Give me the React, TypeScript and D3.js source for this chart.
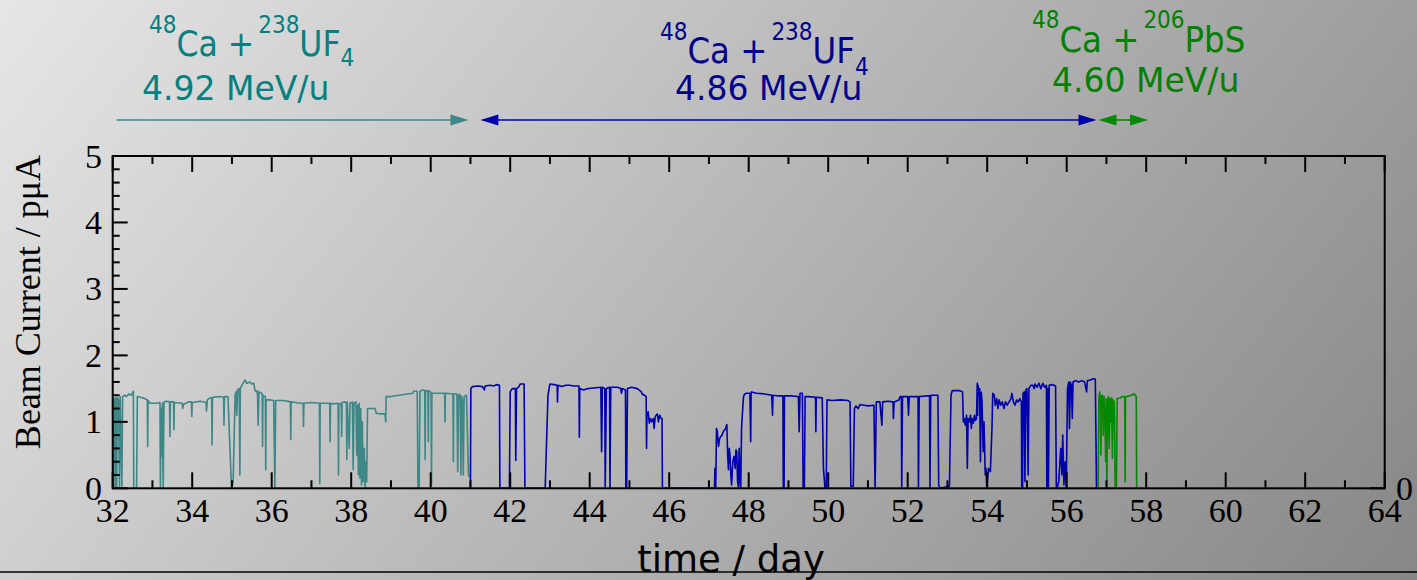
import React from 'react';
import * as d3 from 'd3';

const W = 1417;
const H = 580;

// ---- axis values ----
const xMajorTicks = [32, 34, 36, 38, 40, 42, 44, 46, 48, 50, 52, 54, 56, 58, 60, 62, 64];
const xMinorTicks = [33, 35, 37, 39, 41, 43, 45, 47, 49, 51, 53, 55, 57, 59, 61, 63];
const yMajorTicks = [0, 1, 2, 3, 4, 5];
const yMinorTicks = [0.2, 0.4, 0.6, 0.8, 1.2, 1.4, 1.6, 1.8, 2.2, 2.4, 2.6, 2.8, 3.2, 3.4, 3.6, 3.8, 4.2, 4.4, 4.6, 4.8];

// ---- beam periods (day ranges of the arrows) ----
const tealArrow = [32.1, 40.95];
const blueArrow = [41.25, 56.75];
const greenArrow = [56.8, 58.05];

// ---- beam current series [day, pμA] ----
const tealSeries: [number, number][] = [
  [32.0, 1.35], [32.01, 0], [32.03, 1.36], [32.05, 1.3], [32.06, 0], [32.08, 1.36], [32.1, 0], [32.12, 1.37],
  [32.15, 1.33], [32.17, 0], [32.19, 1.38], [32.23, 0], [32.25, 1.38], [32.3, 1.4], [32.35, 1.38], [32.4, 1.42],
  [32.47, 1.4], [32.52, 1.46], [32.53, 0], [32.6, 0], [32.62, 1.38], [32.7, 1.37], [32.8, 1.35], [32.87, 1.33],
  [32.88, 0.63], [32.89, 1.32], [32.94, 1.28], [33.1, 1.28], [33.19, 1.29], [33.2, 0], [33.22, 1.2], [33.23, 0.48],
  [33.25, 1.28], [33.27, 0], [33.29, 1.3], [33.35, 1.31], [33.43, 1.3], [33.44, 0.78], [33.45, 1.3], [33.53, 1.3],
  [33.54, 0.88], [33.55, 1.29], [33.75, 1.28], [33.76, 1.2], [33.78, 1.26], [33.9, 1.3], [33.98, 1.3], [33.99, 1.08],
  [34.0, 1.29], [34.2, 1.31], [34.35, 1.29], [34.36, 1.16], [34.38, 1.33], [34.45, 1.36], [34.49, 1.36], [34.5, 0.65],
  [34.51, 1.37], [34.7, 1.38], [34.79, 1.37], [34.8, 0.95], [34.81, 1.38], [34.9, 1.38], [34.95, 0.6], [34.99, 0],
  [35.03, 0.1], [35.08, 1.4], [35.1, 1.45], [35.12, 1.1], [35.14, 1.48], [35.18, 1.5], [35.2, 0.2], [35.21, 1.5],
  [35.25, 1.55], [35.3, 1.6], [35.33, 1.63], [35.37, 1.58], [35.45, 1.6], [35.5, 1.57], [35.55, 1.58], [35.58, 1.47],
  [35.62, 1.45], [35.64, 1.47], [35.66, 0.95], [35.68, 1.45], [35.72, 1.44], [35.76, 1.42], [35.77, 0.63], [35.78, 1.4],
  [35.84, 1.38], [35.85, 0.28], [35.86, 1.33], [35.95, 1.33], [36.05, 1.32], [36.08, 0], [36.1, 1.32], [36.3, 1.32],
  [36.47, 1.3], [36.48, 0.73], [36.49, 1.3], [36.6, 1.29], [36.71, 1.28], [36.79, 1.28], [36.8, 0.93], [36.81, 1.28],
  [37.0, 1.29], [37.2, 1.28], [37.21, 0.07], [37.22, 1.28], [37.35, 1.28], [37.46, 1.28], [37.47, 0.7], [37.48, 1.28],
  [37.55, 1.27], [37.67, 1.28], [37.68, 0.2], [37.69, 1.26], [37.75, 1.28], [37.76, 0.78], [37.77, 1.29], [37.84, 1.3],
  [37.88, 1.28], [37.89, 0.43], [37.9, 1.3], [37.95, 0.6], [37.97, 1.28], [38.03, 1.3], [38.05, 0.28], [38.07, 1.28],
  [38.12, 1.3], [38.14, 0.5], [38.16, 1.25], [38.18, 0.2], [38.2, 1.28], [38.22, 0.15], [38.24, 1.2], [38.26, 0.05],
  [38.28, 1.0], [38.3, 0.1], [38.33, 0.6], [38.35, 0], [38.37, 0.4], [38.39, 0.1], [38.41, 1.2], [38.5, 1.2],
  [38.6, 1.2], [38.63, 1.13], [38.75, 1.12], [38.85, 1.12], [38.87, 1.0], [38.88, 1.38], [39.0, 1.38], [39.2, 1.4],
  [39.4, 1.42], [39.55, 1.43], [39.57, 1.46], [39.66, 1.46], [39.68, 0], [39.71, 0], [39.73, 1.46], [39.8, 1.48],
  [39.85, 1.47], [39.86, 0.43], [39.87, 1.47], [39.93, 1.46], [39.94, 0.7], [39.95, 1.47], [40.01, 1.44], [40.02, 0.05],
  [40.03, 1.43], [40.2, 1.43], [40.35, 1.43], [40.36, 1.0], [40.37, 1.43], [40.56, 1.42], [40.57, 0.4], [40.58, 1.42],
  [40.66, 1.42], [40.68, 0.25], [40.7, 1.4], [40.74, 1.41], [40.76, 0.2], [40.78, 1.38], [40.8, 1.3], [40.82, 0.2],
  [40.84, 1.38], [40.9, 1.4], [40.95, 0.2], [40.98, 0.17],
];

const blueSeries: [number, number][] = [
  [41.0, 0], [41.01, 1.5], [41.05, 1.53], [41.2, 1.54], [41.3, 1.53], [41.35, 1.48], [41.37, 1.54], [41.5, 1.55],
  [41.6, 1.54], [41.65, 1.56], [41.73, 1.55], [41.74, 0], [41.98, 0], [42.0, 1.45], [42.05, 1.5], [42.13, 1.5],
  [42.14, 0.42], [42.16, 1.5], [42.22, 1.53], [42.25, 1.57], [42.35, 1.57], [42.37, 0], [42.88, 0], [42.95, 1.4],
  [43.0, 1.57], [43.1, 1.56], [43.18, 1.55], [43.19, 1.3], [43.2, 1.55], [43.3, 1.53], [43.4, 1.55], [43.5, 1.55],
  [43.6, 1.54], [43.73, 1.54], [43.74, 0.77], [43.75, 1.5], [43.85, 1.48], [43.95, 1.5], [44.1, 1.51], [44.28, 1.52],
  [44.3, 0.55], [44.32, 1.52], [44.38, 1.5], [44.39, 0], [44.42, 1.5], [44.5, 1.52], [44.51, 0], [44.53, 1.52],
  [44.7, 1.52], [44.78, 1.5], [44.8, 1.43], [44.82, 1.5], [44.9, 1.48], [44.91, 0], [44.93, 0], [44.95, 1.5],
  [45.05, 1.52], [45.2, 1.5], [45.3, 1.45], [45.32, 1.42], [45.38, 1.4], [45.42, 1.38], [45.43, 0.6], [45.44, 1.1],
  [45.47, 1.15], [45.5, 0.98], [45.53, 1.05], [45.56, 1.0], [45.6, 1.05], [45.62, 0.9], [45.65, 1.08], [45.7, 1.12],
  [45.73, 1.0], [45.76, 1.1], [45.8, 1.05], [45.82, 1.05], [45.83, 0], [47.14, 0], [47.15, 0.3], [47.17, 0],
  [47.19, 0.9], [47.21, 0.85], [47.24, 0.63], [47.27, 0.75], [47.3, 0.78], [47.33, 0.8], [47.36, 0.85], [47.42, 0.9],
  [47.45, 0.96], [47.47, 0.5], [47.49, 0.28], [47.51, 0.6], [47.53, 0.5], [47.55, 0.2], [47.57, 0.05], [47.6, 0.4],
  [47.63, 0.48], [47.66, 0.3], [47.68, 0.58], [47.7, 0.55], [47.72, 0.1], [47.74, 0.02], [47.76, 0.6], [47.78, 0.1],
  [47.8, 0], [47.82, 0.9], [47.85, 1.2], [47.87, 1.38], [47.9, 1.42], [47.95, 1.43], [48.03, 1.43], [48.05, 0.7],
  [48.06, 1.43], [48.07, 1.45], [48.2, 1.43], [48.4, 1.42], [48.58, 1.4], [48.6, 1.1], [48.61, 1.4], [48.75, 1.39],
  [48.86, 1.39], [48.87, 0], [48.89, 0], [48.9, 1.39], [49.1, 1.39], [49.25, 1.38], [49.27, 0.85], [49.29, 1.43],
  [49.35, 1.43], [49.37, 0], [49.4, 0], [49.42, 1.38], [49.5, 1.38], [49.68, 1.37], [49.69, 0.85], [49.7, 1.37],
  [49.85, 1.36], [49.88, 0.3], [49.92, 0], [49.95, 0], [49.97, 1.33], [50.1, 1.32], [50.3, 1.33], [50.5, 1.32],
  [50.55, 1.3], [50.57, 0.03], [50.63, 0.03], [50.66, 1.2], [50.7, 1.24], [50.75, 1.2], [50.8, 1.26], [50.9, 1.25],
  [51.0, 1.24], [51.15, 1.25], [51.18, 0], [51.21, 1.3], [51.3, 1.3], [51.35, 0.95], [51.37, 1.3], [51.5, 1.31],
  [51.63, 1.3], [51.64, 1.05], [51.66, 1.3], [51.78, 1.33], [51.81, 1.38], [51.84, 1.38], [51.85, 0], [51.87, 1.38],
  [52.0, 1.38], [52.02, 1.1], [52.04, 1.38], [52.2, 1.38], [52.26, 1.38], [52.27, 0], [52.29, 1.38], [52.45, 1.39],
  [52.55, 1.39], [52.56, 0], [52.58, 1.4], [52.7, 1.4], [52.76, 1.4], [52.78, 0.05], [52.81, 0], [53.05, 0.03],
  [53.09, 1.4], [53.12, 1.47], [53.3, 1.47], [53.38, 1.45], [53.4, 1.0], [53.42, 1.05], [53.45, 0.95], [53.48, 1.1],
  [53.5, 0.3], [53.52, 1.05], [53.55, 1.0], [53.58, 1.1], [53.6, 0.9], [53.62, 1.05], [53.65, 0.98], [53.68, 1.1],
  [53.7, 1.02], [53.73, 1.05], [53.75, 1.58], [53.76, 1.1], [53.77, 1.55], [53.79, 1.4], [53.81, 1.5], [53.83, 0.4],
  [53.85, 1.45], [53.87, 1.3], [53.9, 0.55], [53.92, 1.0], [53.95, 0.2], [53.97, 0.3], [53.99, 0], [54.03, 0.3],
  [54.08, 0.25], [54.12, 0.9], [54.14, 1.43], [54.18, 1.4], [54.2, 1.25], [54.24, 1.35], [54.27, 1.2], [54.3, 1.33],
  [54.34, 1.25], [54.38, 1.3], [54.42, 1.2], [54.46, 1.3], [54.5, 1.25], [54.55, 1.3], [54.6, 1.35], [54.62, 1.43],
  [54.66, 1.3], [54.7, 1.25], [54.74, 1.33], [54.78, 1.3], [54.82, 1.35], [54.86, 1.3], [54.87, 0], [54.89, 0],
  [54.9, 1.43], [54.93, 1.45], [54.95, 0.1], [54.97, 1.48], [55.0, 1.5], [55.03, 0.2], [55.05, 1.5], [55.1, 1.55],
  [55.15, 1.55], [55.18, 1.5], [55.2, 1.57], [55.25, 1.52], [55.3, 1.58], [55.35, 1.5], [55.4, 1.58], [55.45, 1.52],
  [55.49, 1.55], [55.5, 0], [55.52, 1.5], [55.54, 0], [55.56, 1.55], [55.62, 1.56], [55.68, 1.55], [55.72, 1.54],
  [55.74, 0], [55.76, 0], [55.8, 0.1], [55.85, 0.6], [55.88, 0.2], [55.9, 0.8], [55.93, 0.05], [55.96, 0.4],
  [55.99, 0], [56.02, 1.5], [56.05, 1.6], [56.07, 0.9], [56.09, 1.6], [56.12, 1.55], [56.14, 1.05], [56.16, 1.6],
  [56.22, 1.62], [56.3, 1.6], [56.38, 1.62], [56.45, 1.6], [56.5, 1.45], [56.52, 1.62], [56.6, 1.63], [56.67, 1.65],
  [56.72, 1.64], [56.75, 0],
];

const greenSeries: [number, number][] = [
  [56.79, 0], [56.81, 1.35], [56.83, 1.45], [56.85, 1.3], [56.86, 0.5], [56.88, 1.4], [56.9, 1.4], [56.92, 0.8],
  [56.94, 1.38], [56.96, 1.2], [56.98, 0.4], [57.0, 1.35], [57.01, 0.02], [57.03, 1.3], [57.05, 1.38], [57.07, 0.6],
  [57.09, 1.35], [57.11, 1.0], [57.13, 1.36], [57.15, 0.45], [57.17, 1.33], [57.2, 1.3], [57.22, 0], [57.25, 0],
  [57.27, 1.35], [57.35, 1.36], [57.4, 1.38], [57.46, 1.38], [57.47, 0.1], [57.48, 1.37], [57.55, 1.39], [57.62, 1.4],
  [57.7, 1.42], [57.75, 1.38], [57.76, 0],
];

const TEAL_LINE = '#3d8787';
const TEAL_TEXT = '#008080';
const BLUE_LINE = '#0000aa';
const BLUE_TEXT = '#00008b';
const GREEN_LINE = '#008a00';
const GREEN_TEXT = '#008000';

const PLOT = { left: 112.7, right: 1384.7, top: 156, bottom: 488.3 };

export default function App() {
  const x = d3.scaleLinear().domain([32, 64]).range([PLOT.left, PLOT.right]);
  const y = d3.scaleLinear().domain([0, 5]).range([PLOT.bottom, PLOT.top]);
  const line = d3
    .line<[number, number]>()
    .x((d) => x(d[0]))
    .y((d) => y(d[1]));

  const arrowY = 120;
  const head = (tip: number, dir: number, color: string) => (
    <polygon
      points={`${tip},${arrowY} ${tip - dir * 18},${arrowY - 5.5} ${tip - dir * 18},${arrowY + 5.5}`}
      fill={color}
    />
  );

  const serif = '"Liberation Serif", "Times New Roman", serif';
  const cond = '"DejaVu Sans Condensed", "DejaVu Sans", sans-serif';
  const sans = '"DejaVu Sans", sans-serif';

  return (
    <svg
      width={W}
      height={H}
      style={{ position: 'absolute', left: 0, top: 0, display: 'block' }}
      xmlns="http://www.w3.org/2000/svg"
    >
      <defs>
        <linearGradient id="bg" gradientUnits="userSpaceOnUse" x1={0} y1={0} x2={1182} y2={921}>
          <stop offset="0%" stopColor="#e6e6e6" />
          <stop offset="100%" stopColor="#858585" />
        </linearGradient>
      </defs>
      <rect x={0} y={0} width={W} height={H} fill="url(#bg)" />

      {/* annotations */}
      <text fontFamily={cond} fill={TEAL_TEXT}>
        <tspan x={149} y={33} fontSize={24}>48</tspan>
        <tspan y={56} fontSize={35}>Ca +</tspan>
        <tspan y={33} fontSize={24} dx={4}>238</tspan>
        <tspan y={56} fontSize={35}>UF</tspan>
        <tspan y={66} fontSize={24}>4</tspan>
      </text>
      <text x={142} y={100} fontFamily={sans} fontSize={33} fill={TEAL_TEXT}>4.92 MeV/u</text>

      <text fontFamily={cond} fill={BLUE_TEXT}>
        <tspan x={660} y={40} fontSize={24}>48</tspan>
        <tspan y={63} fontSize={36}>Ca +</tspan>
        <tspan y={40} fontSize={24} dx={4}>238</tspan>
        <tspan y={63} fontSize={36}>UF</tspan>
        <tspan y={75} fontSize={24}>4</tspan>
      </text>
      <text x={675} y={100} fontFamily={sans} fontSize={33} fill={BLUE_TEXT}>4.86 MeV/u</text>

      <text fontFamily={cond} fill={GREEN_TEXT}>
        <tspan x={1032} y={28} fontSize={24}>48</tspan>
        <tspan y={52} fontSize={36}>Ca +</tspan>
        <tspan y={28} fontSize={24} dx={4}>206</tspan>
        <tspan y={52} fontSize={36}>PbS</tspan>
      </text>
      <text x={1052} y={92} fontFamily={sans} fontSize={33} fill={GREEN_TEXT}>4.60 MeV/u</text>

      {/* arrows */}
      <line x1={x(tealArrow[0])} x2={x(tealArrow[1]) - 10} y1={arrowY} y2={arrowY} stroke={TEAL_LINE} strokeWidth={1.6} />
      {head(x(tealArrow[1]), 1, TEAL_LINE)}
      <line x1={x(blueArrow[0]) + 10} x2={x(blueArrow[1]) - 10} y1={arrowY} y2={arrowY} stroke={BLUE_LINE} strokeWidth={1.6} />
      {head(x(blueArrow[0]), -1, BLUE_LINE)}
      {head(x(blueArrow[1]), 1, BLUE_LINE)}
      <line x1={x(greenArrow[0]) + 10} x2={x(greenArrow[1]) - 10} y1={arrowY} y2={arrowY} stroke={GREEN_LINE} strokeWidth={1.6} />
      {head(x(greenArrow[0]), -1, GREEN_LINE)}
      {head(x(greenArrow[1]), 1, GREEN_LINE)}

      {/* data */}
      <path d={line(tealSeries) || ''} fill="none" stroke={TEAL_LINE} strokeWidth={1.6} strokeLinejoin="round" />
      <path d={line(blueSeries) || ''} fill="none" stroke={BLUE_LINE} strokeWidth={1.6} strokeLinejoin="round" />
      <path d={line(greenSeries) || ''} fill="none" stroke={GREEN_LINE} strokeWidth={1.6} strokeLinejoin="round" />

      {/* frame */}
      <rect
        x={PLOT.left}
        y={PLOT.top}
        width={PLOT.right - PLOT.left}
        height={PLOT.bottom - PLOT.top}
        fill="none"
        stroke="#000"
        strokeWidth={2}
      />

      {/* x ticks bottom & top */}
      {xMajorTicks.map((t) => (
        <g key={`xM${t}`}>
          <line x1={x(t)} x2={x(t)} y1={PLOT.bottom} y2={PLOT.bottom - 16} stroke="#000" strokeWidth={2} />
          <line x1={x(t)} x2={x(t)} y1={PLOT.top} y2={PLOT.top + 16} stroke="#000" strokeWidth={2} />
          <text x={x(t)} y={522} textAnchor="middle" fontFamily={serif} fontSize={34} fill="#000">
            {t}
          </text>
        </g>
      ))}
      {xMinorTicks.map((t) => (
        <g key={`xm${t}`}>
          <line x1={x(t)} x2={x(t)} y1={PLOT.bottom} y2={PLOT.bottom - 8} stroke="#000" strokeWidth={2} />
          <line x1={x(t)} x2={x(t)} y1={PLOT.top} y2={PLOT.top + 8} stroke="#000" strokeWidth={2} />
        </g>
      ))}

      {/* y ticks */}
      {yMajorTicks.map((t) => (
        <g key={`yM${t}`}>
          <line x1={PLOT.left} x2={PLOT.left + 15} y1={y(t)} y2={y(t)} stroke="#000" strokeWidth={2} />
          <text x={102} y={y(t) + 11.5} textAnchor="end" fontFamily={serif} fontSize={34} fill="#000">
            {t}
          </text>
        </g>
      ))}
      {yMinorTicks.map((t) => (
        <line key={`ym${t}`} x1={PLOT.left} x2={PLOT.left + 7} y1={y(t)} y2={y(t)} stroke="#000" strokeWidth={2} />
      ))}
      {/* right axis: single tick at 0 */}
      <line x1={PLOT.right} x2={PLOT.right - 15} y1={y(0)} y2={y(0)} stroke="#000" strokeWidth={2} />
      <text x={1396} y={y(0) + 11.5} fontFamily={serif} fontSize={34} fill="#000">
        {yMajorTicks[0]}
      </text>

      {/* axis titles */}
      <text
        transform={`translate(40, 302) rotate(-90)`}
        textAnchor="middle"
        fontFamily={serif}
        fontSize={36}
        fill="#000"
      >
        Beam Current / pμA
      </text>
      <text x={731} y={572} textAnchor="middle" fontFamily={sans} fontSize={37} fill="#000">
        time / day
      </text>

      <line x1={0} x2={W} y1={572} y2={572} stroke="#000" strokeWidth={1.5} />
    </svg>
  );
}
